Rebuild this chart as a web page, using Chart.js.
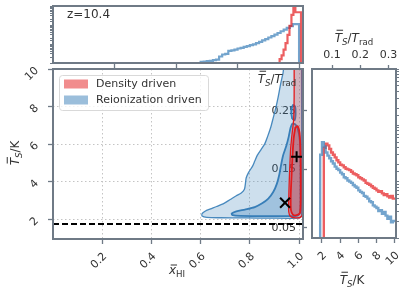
<!DOCTYPE html>
<html>
<head>
<meta charset="utf-8">
<script src="https://cdn.jsdelivr.net/npm/chart.js@4.4.0/dist/chart.umd.min.js"></script>
<style>
html, body { margin: 0; padding: 0; background: #fff; }
#wrap { position: relative; width: 416px; height: 293px; overflow: hidden; }
#wrap canvas { position: absolute; left: 0; top: 0; }
</style>
</head>
<body>
<div id="wrap">
  <canvas id="topPanel" width="416" height="293"></canvas>
  <canvas id="mainPanel" width="416" height="293"></canvas>
  <canvas id="sidePanel" width="416" height="293"></canvas>
</div>
<script>
// redshift del panel y temperatura del CMB a ese z
const redshift = 10.4;
const TRAD = 2.725 * (1 + redshift);

// --- panel principal: contornos 2D (x_HI, Ts) ---
const reionOuter = [
  [1.01, 10.5], [0.945, 10.5], [0.935, 9.8], [0.925, 9.2], [0.915, 8.5], [0.905, 7.9],
  [0.895, 7.4], [0.885, 6.9], [0.872, 6.4], [0.86, 6.0], [0.845, 5.7], [0.83, 5.4],
  [0.82, 5.1], [0.81, 4.8], [0.795, 4.5], [0.785, 4.2], [0.782, 3.9], [0.778, 3.6],
  [0.765, 3.4], [0.745, 3.25], [0.72, 3.05], [0.695, 2.85], [0.665, 2.68], [0.64, 2.55],
  [0.618, 2.43], [0.606, 2.3], [0.606, 2.17], [0.625, 2.1], [0.68, 2.08], [0.78, 2.07],
  [0.88, 2.06], [0.96, 2.05], [1.0, 2.07], [1.01, 2.2], [1.01, 10.5]
];
const reionInner = [
  [0.972, 7.1], [0.985, 7.05], [0.995, 6.8], [1.003, 6.2], [1.006, 5.0], [1.006, 3.5],
  [1.005, 2.4], [0.995, 2.2], [0.95, 2.17], [0.85, 2.17], [0.76, 2.18], [0.73, 2.22],
  [0.726, 2.3], [0.745, 2.42], [0.78, 2.52], [0.82, 2.65], [0.85, 2.85], [0.875, 3.1],
  [0.895, 3.45], [0.91, 3.9], [0.92, 4.4], [0.927, 4.9], [0.935, 5.4], [0.948, 5.9],
  [0.958, 6.4], [0.965, 6.85], [0.972, 7.1]
];
const reionIsland = [
  [0.972, 7.35], [0.982, 7.28], [0.986, 7.6], [0.984, 8.0], [0.975, 8.08], [0.968, 7.7], [0.972, 7.35]
];
const densOuter = [
  [0.98, 10.5], [0.98, 8.5], [0.978, 7.3], [0.972, 6.6], [0.966, 5.8], [0.963, 5.0],
  [0.96, 4.0], [0.958, 3.0], [0.958, 2.4], [0.965, 2.15], [0.985, 2.08], [1.005, 2.1],
  [1.014, 2.3], [1.014, 10.5]
];
const densInner = [
  [0.985, 6.9], [0.995, 6.95], [1.002, 6.6], [1.006, 5.5], [1.007, 3.5], [1.004, 2.35],
  [0.99, 2.22], [0.975, 2.25], [0.967, 2.5], [0.966, 3.2], [0.969, 4.2], [0.973, 5.3],
  [0.978, 6.3], [0.985, 6.9]
];
const reionBest = [0.943, 2.88];
const densBest = [0.99, 5.33];
const adiabaticTs = 1.75;

// --- panel superior: histograma de x_HI (escala log) ---
const xhiBlueStart = 0.60;
const xhiBlueWidth = 0.0125;
const xhiBlueCounts = [0.5, 1.15, 1.2, 1.25, 1.3, 1.4, 1.5, 2.2, 2.8, 3.0, 4.3, 4.6, 5.0, 5.8, 6.3, 7.0,
  7.8, 8.8, 9.5, 11, 13, 15.5, 18, 22, 26, 31, 38, 47, 57, 70, 88, 110];
const xhiRedEdges = [0.921, 0.929, 0.937, 0.945, 0.953, 0.961, 0.969, 0.977, 0.985, 0.996, 1.008];
const xhiRedCounts = [1.2, 1.6, 2.5, 5, 11, 30, 90, 340, 3000, 470];

// --- panel derecho: histograma de Ts (escala log) ---
const tsBinStart = 1.8;
const tsBinWidth = 0.2;
const tsBlueCounts = [0.5, 30, 50, 42, 33, 29, 26, 23, 21, 18.5, 17, 16, 14.5, 13.5, 12, 11.5, 10.5, 10,
  9.5, 8.7, 8.2, 7.8, 7, 6.6, 6.3, 5.6, 5.4, 5.0, 4.5, 4.3, 3.8, 3.6, 3.4, 3.0, 3.1, 2.7, 2.9, 2.5,
  2.2, 2.4, 1.9, 2.0];
const tsRedCounts = [0.5, 0.5, 0.5, 40, 47, 44, 38, 33, 30, 27, 24, 22, 20, 19.5, 18, 17, 16.5, 16,
  15, 14, 13.5, 13, 12, 11.5, 11, 10.5, 9.5, 9.2, 8.8, 8.3, 7.8, 7.5, 7.0, 6.6, 6.8, 6.2, 5.8, 6.0,
  5.5, 5.2, 5.6, 5.0];

const xTicksMain = [0.2, 0.4, 0.6, 0.8, 1.0];
const xTicksTop = [0.25, 0.5, 0.75, 1.0];
const tsTicks = [2, 4, 6, 8, 10];
const ratioTicksMain = [0.05, 0.15, 0.25];
const ratioTicksSide = [0.1, 0.2, 0.3];

// colores
const RED = '#e41a1c';
const BLUE = '#377eb8';
const SPINE = '#6f7a86';
const TEXT = '#333333';
const FONT = '"DejaVu Sans"';

Chart.defaults.font.family = FONT;
Chart.defaults.font.size = 11;
Chart.defaults.color = TEXT;

const FLOOR = 0.5;
const toXY = arr => arr.map(p => ({x: p[0], y: p[1]}));

function stepPoints(edges, counts) {
  const pts = [{x: edges[0], y: FLOOR}];
  counts.forEach((c, i) => pts.push({x: edges[i], y: c}));
  const last = edges[counts.length];
  pts.push({x: last, y: counts[counts.length - 1]});
  pts.push({x: last, y: FLOOR});
  return pts;
}
function regularEdges(start, width, n) {
  const e = [];
  for (let i = 0; i <= n; i++) e.push(+(start + i * width).toFixed(5));
  return e;
}
const setTicks = vals => scale => { scale.ticks = vals.map(v => ({value: v})); };
const fixW = w => scale => { scale.width = w; };
const fixH = h => scale => { scale.height = h; };

// texto con subindices y barra
function drawMath(ctx, parts, x, y, size, rotate) {
  ctx.save();
  ctx.translate(x, y);
  if (rotate) ctx.rotate(rotate);
  const fontOf = p => (p.it ? 'italic ' : '') + (p.sub ? size * 0.72 : size) + 'px ' + FONT;
  let total = 0;
  parts.forEach(p => { ctx.font = fontOf(p); p.w = ctx.measureText(p.t).width; total += p.w; });
  let cx = -total / 2;
  ctx.fillStyle = TEXT;
  ctx.strokeStyle = TEXT;
  ctx.textBaseline = 'alphabetic';
  ctx.textAlign = 'left';
  parts.forEach(p => {
    ctx.font = fontOf(p);
    ctx.fillText(p.t, cx, p.sub ? size * 0.28 : 0);
    if (p.bar) {
      const by = -size * p.bar;
      ctx.lineWidth = 1;
      ctx.beginPath();
      ctx.moveTo(cx + p.w * 0.25, by);
      ctx.lineTo(cx + p.w + 1, by);
      ctx.stroke();
    }
    cx += p.w;
  });
  ctx.restore();
}
const tsLabel = [{t: 'T', it: true, bar: 0.98}, {t: 'S', it: true, sub: true}, {t: '/K'}];
const ratioLabel = [{t: 'T', it: true, bar: 0.98}, {t: 'S', it: true, sub: true}, {t: '/'}, {t: 'T', it: true}, {t: 'rad', sub: true}];
const xhiLabel = [{t: 'x', it: true, bar: 0.75}, {t: 'HI', sub: true}];

const framePlugin = {
  id: 'frame',
  afterDatasetsDraw(chart) {
    const {ctx, chartArea: a} = chart;
    ctx.save();
    ctx.strokeStyle = SPINE;
    ctx.lineWidth = 2;
    ctx.strokeRect(a.left, a.top, a.right - a.left, a.bottom - a.top);
    ctx.restore();
  }
};

const tickGrid = {drawOnChartArea: false, drawTicks: true, tickLength: 5, tickColor: SPINE, tickWidth: 1.3};
const dottedGrid = {drawOnChartArea: true, color: '#c4c4c4', lineWidth: 1, tickBorderDash: [],
  drawTicks: true, tickLength: 5, tickColor: SPINE, tickWidth: 1.3};
const dottedBorder = {display: false, dash: [1.5, 2.5]};

// ================= panel superior =================
new Chart(document.getElementById('topPanel'), {
  type: 'scatter',
  data: {
    datasets: [
      {data: stepPoints(xhiRedEdges, xhiRedCounts), showLine: true, stepped: 'after', borderColor: 'rgba(228,26,28,0.7)',
       borderWidth: 2.2, pointRadius: 0, order: 1},
      {data: stepPoints(regularEdges(xhiBlueStart, xhiBlueWidth, xhiBlueCounts.length), xhiBlueCounts), showLine: true,
       stepped: 'after', borderColor: 'rgba(55,126,184,0.7)', borderWidth: 2.2, pointRadius: 0, order: 2}
    ]
  },
  options: {
    responsive: false, animation: false, events: [],
    layout: {padding: {top: 6, left: 0, right: 113, bottom: 0}},
    plugins: {legend: {display: false}, tooltip: {enabled: false}},
    scales: {
      x: {type: 'linear', position: 'bottom', min: 0, max: 1.016, afterBuildTicks: setTicks(xTicksTop), afterFit: fixH(230),
          grid: tickGrid, border: {display: false}, ticks: {display: false}},
      y: {type: 'logarithmic', position: 'left', min: 1, max: 1000, afterFit: fixW(53),
          grid: Object.assign({}, tickGrid, {tickLength: 3, tickWidth: 1}), border: {display: false}, ticks: {display: false}}
    }
  },
  plugins: [framePlugin, {
    id: 'zlabel',
    afterDraw(chart) {
      const ctx = chart.ctx;
      ctx.save();
      ctx.font = '12px ' + FONT;
      ctx.fillStyle = TEXT;
      ctx.fillText('z=' + redshift, 67, 18);
      ctx.restore();
    }
  }]
});

// ================= panel principal =================
const mainSets = [
  {data: toXY(reionOuter), fill: 'shape', backgroundColor: 'rgba(55,126,184,0.25)', borderColor: 'rgba(55,126,184,0.9)',
   borderWidth: 1.3, order: 6},
  {data: toXY(reionInner), fill: 'shape', backgroundColor: 'rgba(55,126,184,0.3)', borderColor: BLUE,
   borderWidth: 1.8, order: 5},
  {data: toXY(reionIsland), fill: 'shape', backgroundColor: 'rgba(55,126,184,0.3)', borderColor: BLUE,
   borderWidth: 1.8, order: 5},
  {data: toXY(densOuter), fill: 'shape', backgroundColor: 'rgba(228,26,28,0.22)', borderColor: RED,
   borderWidth: 1.3, order: 4},
  {data: toXY(densInner), fill: 'shape', backgroundColor: 'rgba(228,26,28,0.25)', borderColor: RED,
   borderWidth: 1.8, order: 3}
].map(d => Object.assign({showLine: true, pointRadius: 0, tension: 0.25}, d));

mainSets.push({data: [{x: 0, y: adiabaticTs}, {x: 1.016, y: adiabaticTs}], showLine: true, pointRadius: 0,
  borderColor: '#000', borderWidth: 2, borderDash: [6, 3], order: 2});
mainSets.push({data: [{x: reionBest[0], y: reionBest[1]}], pointStyle: 'crossRot', pointRadius: 7,
  borderColor: '#000', borderWidth: 2, order: 1});
mainSets.push({data: [{x: densBest[0], y: densBest[1]}], pointStyle: 'cross', pointRadius: 5.5,
  borderColor: '#000', borderWidth: 2, order: 1});

new Chart(document.getElementById('mainPanel'), {
  type: 'scatter',
  data: {datasets: mainSets},
  options: {
    responsive: false, animation: false, events: [],
    layout: {padding: {top: 69, left: 0, right: 107, bottom: 0}},
    plugins: {legend: {display: false}, tooltip: {enabled: false}},
    scales: {
      x: {type: 'linear', position: 'bottom', min: 0, max: 1.016, afterBuildTicks: setTicks(xTicksMain), afterFit: fixH(54),
          border: dottedBorder, grid: dottedGrid,
          ticks: {minRotation: 45, maxRotation: 45, autoSkip: false, padding: 6, labelOffset: 3, font: {size: 11},
                  callback: v => v.toFixed(1)}},
      y: {type: 'linear', position: 'left', min: 0.95, max: 10, afterBuildTicks: setTicks(tsTicks), afterFit: fixW(53),
          border: dottedBorder, grid: dottedGrid,
          ticks: {minRotation: 45, maxRotation: 45, autoSkip: false, padding: 11, font: {size: 11}}},
      y2: {type: 'linear', position: 'right', min: 0.95 / TRAD, max: 10 / TRAD, afterBuildTicks: setTicks(ratioTicksMain),
           afterFit: fixW(6), border: {display: false},
           grid: Object.assign({}, tickGrid, {tickLength: 4}),
           ticks: {mirror: true, padding: -7, autoSkip: false, font: {size: 11}, callback: v => v.toFixed(2)}}
    }
  },
  plugins: [framePlugin, {
    id: 'mainText',
    afterDraw(chart) {
      const ctx = chart.ctx;
      drawMath(ctx, ratioLabel, 277, 83, 12);
      drawMath(ctx, xhiLabel, 177, 274, 12);
      drawMath(ctx, tsLabel, 19, 153, 12, -Math.PI / 2);
      // leyenda
      ctx.save();
      ctx.fillStyle = 'rgba(255,255,255,0.8)';
      ctx.strokeStyle = '#d9d9d9';
      ctx.lineWidth = 1;
      ctx.beginPath();
      ctx.roundRect(59.5, 75.5, 149, 35, 3);
      ctx.fill();
      ctx.stroke();
      const items = [['Density driven', 'rgba(228,26,28,0.5)', 84], ['Reionization driven', 'rgba(55,126,184,0.5)', 100]];
      ctx.font = '11px ' + FONT;
      ctx.textBaseline = 'middle';
      items.forEach(([label, col, yc]) => {
        ctx.fillStyle = col;
        ctx.fillRect(64, yc - 4.5, 24, 9);
        ctx.fillStyle = TEXT;
        ctx.fillText(label, 96, yc + 0.5);
      });
      ctx.restore();
    }
  }]
});

// ================= panel derecho =================
const tsEdges = regularEdges(tsBinStart, tsBinWidth, tsBlueCounts.length);
new Chart(document.getElementById('sidePanel'), {
  type: 'scatter',
  data: {
    datasets: [
      {data: stepPoints(tsEdges, tsRedCounts), showLine: true, stepped: 'after', borderColor: 'rgba(228,26,28,0.7)',
       borderWidth: 2.4, pointRadius: 0, order: 2},
      {data: stepPoints(tsEdges, tsBlueCounts), showLine: true, stepped: 'after', borderColor: 'rgba(55,126,184,0.7)',
       borderWidth: 2.4, pointRadius: 0, order: 1}
    ]
  },
  options: {
    responsive: false, animation: false, events: [],
    layout: {padding: {top: 0, left: 312, right: 0, bottom: 0}},
    plugins: {legend: {display: false}, tooltip: {enabled: false}},
    scales: {
      x: {type: 'linear', position: 'bottom', min: 0.9, max: 10.15, afterBuildTicks: setTicks(tsTicks), afterFit: fixH(55),
          grid: tickGrid, border: {display: false},
          ticks: {minRotation: 45, maxRotation: 45, autoSkip: false, padding: 6, labelOffset: 3, font: {size: 11}}},
      x2: {type: 'linear', position: 'top', min: 0.9 / TRAD, max: 10.15 / TRAD, afterBuildTicks: setTicks(ratioTicksSide),
           afterFit: fixH(69), grid: Object.assign({}, tickGrid, {tickLength: 4}), border: {display: false},
           ticks: {padding: 3, autoSkip: false, font: {size: 11}, callback: v => v.toFixed(1)}},
      y: {type: 'logarithmic', position: 'right', min: 1, max: 1000, afterFit: fixW(20),
          grid: Object.assign({}, tickGrid, {tickLength: 3, tickWidth: 1}), border: {display: false}, ticks: {display: false}}
    }
  },
  plugins: [framePlugin, {
    id: 'sideText',
    afterDraw(chart) {
      drawMath(chart.ctx, ratioLabel, 354, 42, 12);
      drawMath(chart.ctx, tsLabel, 352, 284, 12);
    }
  }]
});
</script>
</body>
</html>
